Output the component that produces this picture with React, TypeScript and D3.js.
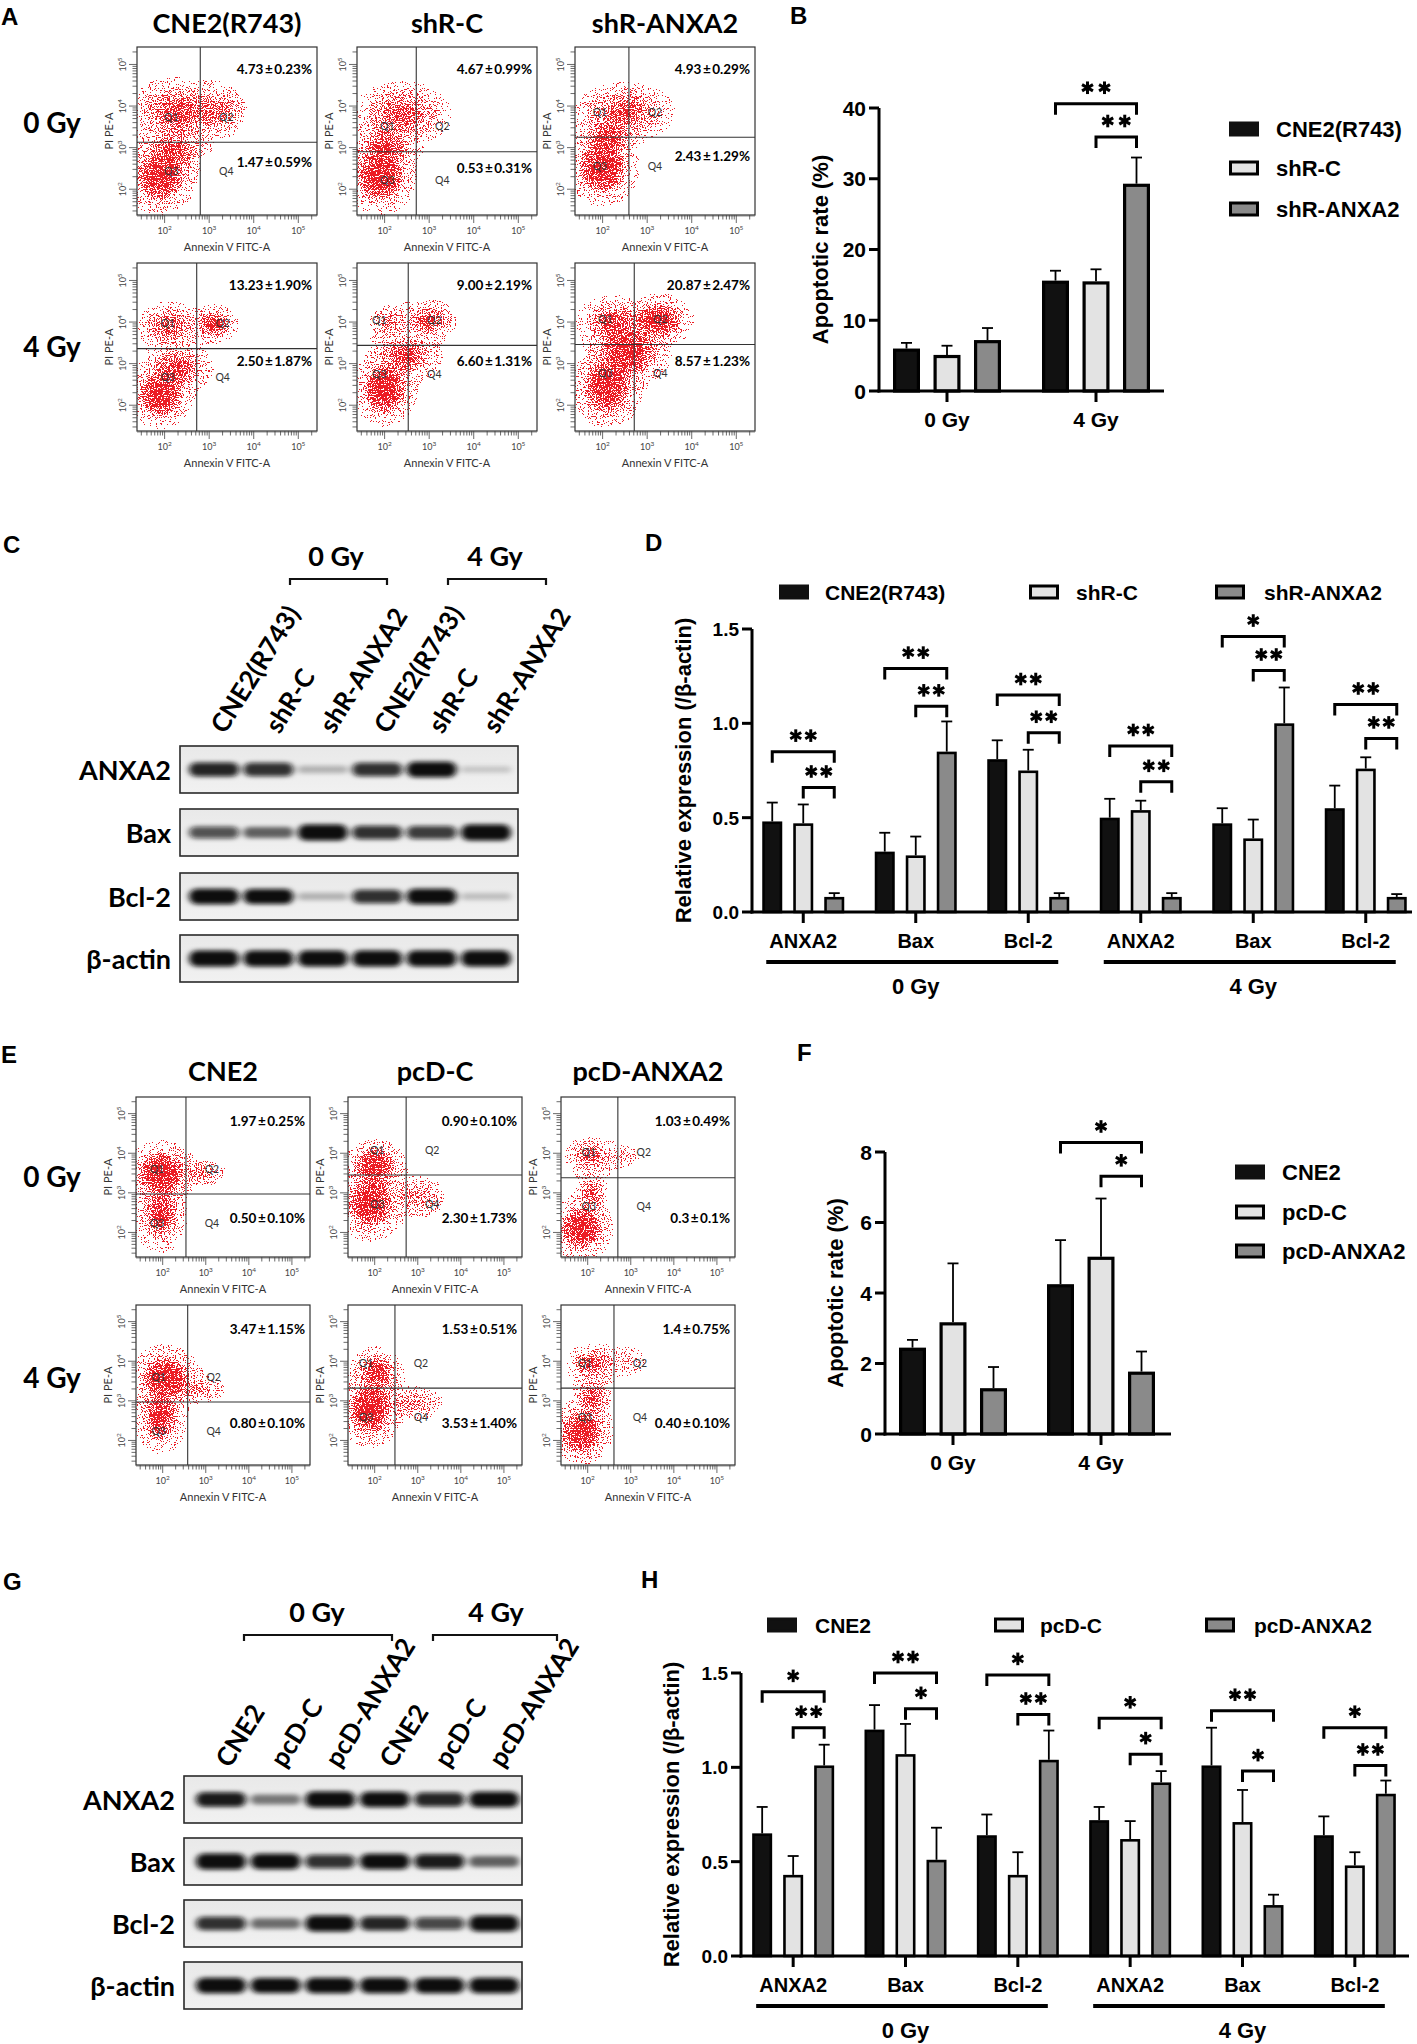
import React from "react";
import * as d3 from "d3";

const FIG_W = 1417;
const FIG_H = 2044;
const SANS = "'Liberation Sans', Arial, sans-serif";
const CAL = "Lato, 'Open Sans', sans-serif";

// ---------------- data: flow cytometry (A, E) ----------------
const groupsA = ["CNE2(R743)", "shR-C", "shR-ANXA2"];
const groupsE = ["CNE2", "pcD-C", "pcD-ANXA2"];
const doses = ["0 Gy", "4 Gy"];

// gate position per plot, [log10 Annexin V, log10 PI], rows 0 Gy then 4 Gy
const gatesA = [[2.8, 3.13], [2.71, 2.9], [2.59, 3.25], [2.72, 3.36], [2.53, 3.44], [2.71, 3.46]];
const gatesE = [[2.54, 2.97], [2.73, 3.45], [2.7, 3.38], [2.58, 2.97], [2.47, 3.32], [2.61, 3.32]];

const q2TextA = ["4.73±0.23%", "4.67±0.99%", "4.93±0.29%", "13.23±1.90%", "9.00±2.19%", "20.87±2.47%"];
const q4TextA = ["1.47±0.59%", "0.53±0.31%", "2.43±1.29%", "2.50±1.87%", "6.60±1.31%", "8.57±1.23%"];
const q2TextE = ["1.97±0.25%", "0.90±0.10%", "1.03±0.49%", "3.47±1.15%", "1.53±0.51%", "1.4±0.75%"];
const q4TextE = ["0.50±0.10%", "2.30±1.73%", "0.3±0.1%", "0.80±0.10%", "3.53±1.40%", "0.40±0.10%"];
// where the percentage labels sit (log10 PI)
const q2LevelA = 4.77;
const q2LevelE = 4.69;
const q4LevelA = [2.53, 2.39, 2.68, 2.95, 2.95, 2.95];
const q4LevelE = [2.24, 2.24, 2.24, 2.31, 2.31, 2.31];

// event clouds: [log10 Annexin centre, log10 PI centre, spread x, spread y (decades), density]
const cloudsA = [
  [[1.9, 2.3, 0.5, 0.55, 1], [2.2, 2.9, 0.55, 0.45, 0.5], [2.3, 3.85, 0.85, 0.6, 0.55], [3.2, 3.9, 0.55, 0.45, 0.35]],
  [[1.9, 2.3, 0.5, 0.55, 1], [2.0, 3.0, 0.5, 0.45, 0.6], [2.4, 3.8, 0.85, 0.6, 0.5]],
  [[2.0, 2.5, 0.5, 0.55, 1], [2.1, 3.2, 0.45, 0.4, 0.6], [2.5, 3.85, 0.85, 0.55, 0.5]],
  [[1.9, 2.25, 0.45, 0.5, 1], [2.3, 2.9, 0.55, 0.45, 0.6], [2.1, 3.9, 0.55, 0.45, 0.5], [3.1, 3.95, 0.35, 0.3, 0.75]],
  [[2.0, 2.4, 0.45, 0.55, 1], [2.5, 3.2, 0.55, 0.45, 0.6], [3.0, 4.05, 0.45, 0.35, 0.55], [2.1, 4.0, 0.4, 0.4, 0.35]],
  [[2.1, 2.45, 0.5, 0.6, 1], [2.6, 3.3, 0.6, 0.55, 0.85], [3.25, 4.05, 0.5, 0.4, 0.85], [2.2, 4.0, 0.55, 0.45, 0.6]],
];
const cloudsE = [
  [[1.95, 3.5, 0.5, 0.5, 1], [1.95, 2.45, 0.4, 0.65, 0.7], [2.9, 3.5, 0.55, 0.3, 0.3]],
  [[2.0, 3.7, 0.45, 0.4, 0.9], [1.9, 2.75, 0.5, 0.6, 0.95], [3.0, 2.9, 0.6, 0.5, 0.3]],
  [[1.85, 2.1, 0.45, 0.5, 1], [2.1, 3.0, 0.3, 0.5, 0.45], [2.05, 3.95, 0.45, 0.35, 0.5], [2.8, 3.9, 0.4, 0.3, 0.2]],
  [[2.05, 3.6, 0.5, 0.5, 1], [1.95, 2.6, 0.4, 0.6, 0.75], [2.8, 3.3, 0.6, 0.35, 0.3]],
  [[2.05, 3.75, 0.4, 0.4, 0.75], [1.9, 2.8, 0.45, 0.6, 1], [2.9, 2.95, 0.65, 0.4, 0.3]],
  [[1.85, 2.2, 0.45, 0.5, 1], [2.1, 3.1, 0.35, 0.5, 0.5], [2.1, 3.95, 0.45, 0.35, 0.55], [2.9, 4.0, 0.5, 0.4, 0.15]],
];

// ---------------- data: apoptosis bars (B, F) ----------------
const seriesB = ["CNE2(R743)", "shR-C", "shR-ANXA2"];
const seriesF = ["CNE2", "pcD-C", "pcD-ANXA2"];
const meanB = [[6.0, 5.1, 7.2], [15.6, 15.5, 29.3]];
const sdB = [[0.8, 1.3, 1.7], [1.4, 1.7, 3.7]];
const meanF = [[2.45, 3.17, 1.3], [4.25, 5.03, 1.77]];
const sdF = [[0.22, 1.67, 0.6], [1.25, 1.65, 0.57]];
const ticksB = [0, 10, 20, 30, 40];
const ticksF = [0, 2, 4, 6, 8];
// significance brackets: [category, from series, to series, level, stars]
const bracketsB = [[1, 0, 2, 40.6, 2], [1, 1, 2, 35.9, 2]];
const bracketsF = [[1, 0, 2, 8.27, 1], [1, 1, 2, 7.31, 1]];

// ---------------- data: western blots (C, G) ----------------
const proteins = ["ANXA2", "Bax", "Bcl-2", "β-actin"];
const lanesC = ["CNE2(R743)", "shR-C", "shR-ANXA2", "CNE2(R743)", "shR-C", "shR-ANXA2"];
const lanesG = ["CNE2", "pcD-C", "pcD-ANXA2", "CNE2", "pcD-C", "pcD-ANXA2"];
const bandsC = [
  [0.8, 0.75, 0.15, 0.75, 0.95, 0.07],
  [0.6, 0.5, 1.0, 0.75, 0.7, 1.0],
  [0.95, 0.9, 0.15, 0.75, 0.95, 0.1],
  [1.0, 1.0, 1.0, 1.0, 1.0, 1.0],
];
const bandsG = [
  [0.85, 0.4, 1.0, 0.95, 0.8, 0.95],
  [1.0, 0.95, 0.75, 0.95, 0.85, 0.5],
  [0.75, 0.45, 1.0, 0.8, 0.65, 1.0],
  [0.95, 0.9, 0.95, 0.95, 0.95, 0.95],
];

// ---------------- data: relative expression (D, H) ----------------
const exprCats = ["ANXA2", "Bax", "Bcl-2", "ANXA2", "Bax", "Bcl-2"];
const exprTicks = [0, 0.5, 1.0, 1.5];
const meanD = [[0.48, 0.47, 0.08], [0.32, 0.3, 0.85], [0.81, 0.75, 0.08], [0.5, 0.54, 0.08], [0.47, 0.39, 1.0], [0.55, 0.76, 0.08]];
const sdD = [[0.1, 0.1, 0.02], [0.1, 0.1, 0.16], [0.1, 0.11, 0.02], [0.1, 0.05, 0.02], [0.08, 0.1, 0.19], [0.12, 0.06, 0.015]];
const meanH = [[0.65, 0.43, 1.01], [1.2, 1.07, 0.51], [0.64, 0.43, 1.04], [0.72, 0.62, 0.92], [1.01, 0.71, 0.27], [0.64, 0.48, 0.86]];
const sdH = [[0.14, 0.1, 0.11], [0.13, 0.16, 0.17], [0.11, 0.12, 0.155], [0.07, 0.095, 0.06], [0.2, 0.17, 0.055], [0.1, 0.07, 0.07]];
const bracketsD = [
  [0, 0, 2, 0.85, 2], [0, 1, 2, 0.66, 2],
  [1, 0, 2, 1.29, 2], [1, 1, 2, 1.09, 2],
  [2, 0, 2, 1.15, 2], [2, 1, 2, 0.95, 2],
  [3, 0, 2, 0.88, 2], [3, 1, 2, 0.69, 2],
  [4, 0, 2, 1.46, 1], [4, 1, 2, 1.28, 2],
  [5, 0, 2, 1.1, 2], [5, 1, 2, 0.92, 2],
];
const bracketsH = [
  [0, 0, 2, 1.4, 1], [0, 1, 2, 1.21, 2],
  [1, 0, 2, 1.5, 2], [1, 1, 2, 1.31, 1],
  [2, 0, 2, 1.49, 1], [2, 1, 2, 1.28, 2],
  [3, 0, 2, 1.26, 1], [3, 1, 2, 1.07, 1],
  [4, 0, 2, 1.3, 2], [4, 1, 2, 0.98, 1],
  [5, 0, 2, 1.21, 1], [5, 1, 2, 1.01, 2],
];

const FILLS = ["#111111", "#e3e3e3", "#8a8a8a"];

// ---------------- flow plots ----------------
const LOG_MIN = 1.38;
const LOG_MAX = 5.42;

function Pct({ x, y, t }: any) {
  const [a, b] = t.split("±");
  return (
    <text x={x} y={y} textAnchor="end" fontFamily={CAL} fontWeight={700} fontSize={13.5}>
      {a}<tspan dx={1.5}>±</tspan><tspan dx={1.5}>{b}</tspan>
    </text>
  );
}

function FlowPlot({ id, left, top, w, h, gate, clouds, q2, q4, q2Lvl, q4Lvl }: any) {
  const dom = [10 ** LOG_MIN, 10 ** LOG_MAX];
  const x = d3.scaleLog().domain(dom).range([left, left + w]);
  const y = d3.scaleLog().domain(dom).range([top + h, top]);
  const dx = w / (LOG_MAX - LOG_MIN);
  const dy = h / (LOG_MAX - LOG_MIN);
  const ticks: { v: number; major: boolean }[] = [];
  for (let e = 1; e <= 5; e++) {
    for (let k = 1; k <= 9; k++) {
      const v = k * 10 ** e;
      if (v >= dom[0] && v <= dom[1]) ticks.push({ v, major: k === 1 });
    }
  }
  const majors = [2, 3, 4, 5];
  const gx = x(10 ** gate[0]);
  const gy = y(10 ** gate[1]);
  const qs = [
    ["Q1", gx - 29, gy - 24],
    ["Q2", gx + 26, gy - 24],
    ["Q3", gx - 29, gy + 30],
    ["Q4", gx + 26, gy + 30],
  ];
  // each cloud is drawn as a wide sparse halo, a body and a dense core
  const layers = [[1.9, 0.36], [1.1, 1], [0.55, 1]];
  return (
    <g>
      <clipPath id={`clip-${id}`}>
        <rect x={left} y={top} width={w} height={h} />
      </clipPath>
      <g clipPath={`url(#clip-${id})`}>
        <g filter="url(#speckle)">
          {layers.map(([k, o], li) =>
            clouds.map((c: number[], i: number) => (
              <ellipse key={`${li}-${i}`} cx={x(10 ** c[0])} cy={y(10 ** c[1])} rx={c[2] * dx * k} ry={c[3] * dy * k}
                fill="url(#cloudGrad)" opacity={o * c[4]} />
            ))
          )}
        </g>
      </g>
      <rect x={left} y={top} width={w} height={h} fill="none" stroke="#333" strokeWidth={1.2} />
      <line x1={gx} x2={gx} y1={top} y2={top + h} stroke="#333" strokeWidth={1.1} />
      <line x1={left} x2={left + w} y1={gy} y2={gy} stroke="#333" strokeWidth={1.1} />
      {qs.map(([t, qx, qy]: any) => (
        <text key={t} x={qx} y={qy} textAnchor="middle" dominantBaseline="middle" fontFamily={CAL} fontSize={10.5} fill="#333">{t}</text>
      ))}
      <Pct x={left + w - 5} y={y(10 ** q2Lvl)} t={q2} />
      <Pct x={left + w - 5} y={y(10 ** q4Lvl)} t={q4} />
      {ticks.map((t, i) => (
        <g key={i} stroke="#444" strokeWidth={0.8}>
          <line x1={x(t.v)} x2={x(t.v)} y1={top + h} y2={top + h + (t.major ? 8 : 4.5)} />
          <line y1={y(t.v)} y2={y(t.v)} x1={left} x2={left - (t.major ? 8 : 4.5)} />
        </g>
      ))}
      <line x1={left} x2={left + w} y1={top + h + 1} y2={top + h + 1} stroke="#444" strokeWidth={0.6} />
      {majors.map((e) => (
        <g key={e} fontFamily={CAL} fill="#444">
          <text x={x(10 ** e)} y={top + h + 19} textAnchor="middle" fontSize={9}>
            10<tspan dy={-4} fontSize={6.5}>{e}</tspan>
          </text>
          <text transform={`translate(${left - 11},${y(10 ** e)}) rotate(-90)`} textAnchor="middle" fontSize={9}>
            10<tspan dy={-4} fontSize={6.5}>{e}</tspan>
          </text>
        </g>
      ))}
      <text x={left + w / 2} y={top + h + 36} textAnchor="middle" fontFamily={CAL} fontSize={11} fill="#333">Annexin V FITC-A</text>
      <text transform={`translate(${left - 24},${top + h / 2}) rotate(-90)`} textAnchor="middle" fontFamily={CAL} fontSize={11} fill="#333">PI PE-A</text>
    </g>
  );
}

function FlowPanel({ tag, cols, rows, w, h, titleY, doseY, titles, gates, q2, q4, q2Lvl, q4Lvl, clouds }: any) {
  return (
    <g>
      {titles.map((t: string, i: number) => (
        <text key={t} x={cols[i] + w / 2} y={titleY} textAnchor="middle" fontFamily={CAL} fontWeight={700} fontSize={27}>{t}</text>
      ))}
      {doses.map((d, r) => (
        <text key={d} x={52} y={doseY[r]} textAnchor="middle" fontFamily={CAL} fontWeight={700} fontSize={28}>{d}</text>
      ))}
      {rows.map((top: number, r: number) =>
        cols.map((left: number, c: number) => {
          const k = r * 3 + c;
          return (
            <FlowPlot key={k} id={`${tag}${k}`} left={left} top={top} w={w} h={h} gate={gates[k]} clouds={clouds[k]}
              q2={q2[k]} q4={q4[k]} q2Lvl={q2Lvl} q4Lvl={q4Lvl[k]} />
          );
        })
      )}
    </g>
  );
}

// ---------------- bar charts ----------------
function Star({ x, y, r }: any) {
  return (
    <g stroke="#000" strokeWidth={3}>
      {[90, 30, 150].map((a) => {
        const rad = (a * Math.PI) / 180;
        const ddx = r * Math.cos(rad);
        const ddy = r * Math.sin(rad);
        return <line key={a} x1={x - ddx} y1={y - ddy} x2={x + ddx} y2={y + ddy} />;
      })}
    </g>
  );
}

function BarChart({ axisX, axisEnd, baseY, topY, yMax, ticks, fmt, bandRange, cats, means, sds, brackets,
  barW, pitch, sw, tickFs, catFs, starGap, yLabel, yLabelX }: any) {
  const x = d3.scaleBand().domain(d3.range(cats.length).map(String)).range(bandRange);
  const y = d3.scaleLinear().domain([0, yMax]).range([baseY, topY]);
  const cx = (c: number, s: number) => (x(String(c)) as number) + x.bandwidth() / 2 + (s - 1) * pitch;
  return (
    <g>
      {means.map((row: number[], c: number) =>
        row.map((m, s) => {
          const bx = cx(c, s);
          const top = y(m + sds[c][s]);
          return (
            <g key={`${c}-${s}`}>
              <line x1={bx} x2={bx} y1={y(m)} y2={top} stroke="#000" strokeWidth={1.8} />
              <line x1={bx - 5.5} x2={bx + 5.5} y1={top} y2={top} stroke="#000" strokeWidth={1.8} />
              <rect x={bx - barW / 2 + sw / 2} y={y(m) + sw / 2} width={barW - sw} height={baseY - y(m) - sw / 2}
                fill={FILLS[s]} stroke="#000" strokeWidth={sw} />
            </g>
          );
        })
      )}
      <line x1={axisX} x2={axisX} y1={baseY + 1.5} y2={topY} stroke="#000" strokeWidth={3} />
      <line x1={axisX - 1.5} x2={axisEnd} y1={baseY} y2={baseY} stroke="#000" strokeWidth={3} />
      {ticks.map((t: number) => (
        <g key={t}>
          <line x1={axisX - 10} x2={axisX} y1={y(t)} y2={y(t)} stroke="#000" strokeWidth={3} />
          <text x={axisX - 13} y={y(t) + tickFs * 0.36} textAnchor="end" fontFamily={SANS} fontWeight={700} fontSize={tickFs}>{fmt(t)}</text>
        </g>
      ))}
      {cats.map((c: string, i: number) => {
        const tx = (x(String(i)) as number) + x.bandwidth() / 2;
        return (
          <g key={i}>
            <line x1={tx} x2={tx} y1={baseY} y2={baseY + 11} stroke="#000" strokeWidth={3} />
            <text x={tx} y={baseY + 36} textAnchor="middle" fontFamily={SANS} fontWeight={700} fontSize={catFs}>{c}</text>
          </g>
        );
      })}
      {brackets.map((b: number[], i: number) => {
        const x1 = cx(b[0], b[1]);
        const x2 = cx(b[0], b[2]);
        const by = y(b[3]);
        const mid = (x1 + x2) / 2;
        return (
          <g key={i}>
            <path d={`M${x1},${by + 11}V${by}H${x2}V${by + 11}`} fill="none" stroke="#000" strokeWidth={3} />
            {d3.range(b[4]).map((k) => (
              <Star key={k} x={mid + (k - (b[4] - 1) / 2) * starGap} y={by - 16} r={6.3} />
            ))}
          </g>
        );
      })}
      <text transform={`translate(${yLabelX},${(baseY + topY) / 2}) rotate(-90)`} textAnchor="middle"
        fontFamily={SANS} fontWeight={700} fontSize={22}>{yLabel}</text>
    </g>
  );
}

function Legend({ names, sqX, textX, cy, fs }: any) {
  return (
    <g>
      {names.map((n: string, i: number) => (
        <g key={n}>
          <rect x={sqX[i] + 1.5} y={cy[i] - 6} width={27} height={12} fill={FILLS[i]} stroke={i === 0 ? FILLS[0] : "#000"} strokeWidth={3} />
          <text x={textX[i]} y={cy[i] + fs * 0.36} fontFamily={SANS} fontWeight={700} fontSize={fs}>{n}</text>
        </g>
      ))}
    </g>
  );
}

function DoseUnderline({ bandRange, baseY }: any) {
  const x = d3.scaleBand().domain(d3.range(6).map(String)).range(bandRange);
  const c = (i: number) => (x(String(i)) as number) + x.bandwidth() / 2;
  return (
    <g>
      {doses.map((d, g) => (
        <g key={d}>
          <line x1={c(g * 3) - 37} x2={c(g * 3 + 2) + 30} y1={baseY + 50} y2={baseY + 50} stroke="#000" strokeWidth={4} />
          <text x={c(g * 3 + 1)} y={baseY + 82} textAnchor="middle" fontFamily={SANS} fontWeight={700} fontSize={22}>{d}</text>
        </g>
      ))}
    </g>
  );
}

// ---------------- blots ----------------
function Blot({ id, left, right, tops, bh, laneRange, lanes, bands, labelY, labelDx, headers, labelRight }: any) {
  const lx = d3.scalePoint().domain(d3.range(6).map(String)).range(laneRange);
  const px = (i: number) => lx(String(i)) as number;
  return (
    <g>
      {lanes.map((l: string, i: number) => (
        <text key={i} transform={`translate(${px(i) + labelDx},${labelY}) rotate(-58)`} fontFamily={CAL}
          fontWeight={700} fontSize={26}>{l}</text>
      ))}
      {headers.map((hd: any) => (
        <g key={hd.t}>
          <text x={hd.cx} y={hd.ty} textAnchor="middle" fontFamily={CAL} fontWeight={700} fontSize={27}>{hd.t}</text>
          <path d={`M${hd.x1},${hd.ty + 19}V${hd.ty + 13}H${hd.x2}V${hd.ty + 19}`} fill="none" stroke="#111" strokeWidth={2.2} />
        </g>
      ))}
      {proteins.map((p, r) => {
        const top = tops[r];
        const cy = top + bh / 2;
        return (
          <g key={p}>
            <text x={labelRight} y={cy + 10} textAnchor="end" fontFamily={CAL} fontWeight={700} fontSize={27}>{p}</text>
            <clipPath id={`bclip-${id}${r}`}>
              <rect x={left} y={top} width={right - left} height={bh} />
            </clipPath>
            <rect x={left} y={top} width={right - left} height={bh} fill="url(#blotBg)" />
            <g clipPath={`url(#bclip-${id}${r})`}>
              <g filter="url(#bandBlur)">
                {bands[r].map((v: number, i: number) => {
                  const hh = 6 + 10 * v;
                  return (
                    <rect key={i} x={px(i) - 25} y={cy - hh / 2} width={50} height={hh} rx={hh / 2}
                      fill="#0a0a0a" opacity={Math.min(1, 0.1 + v)} />
                  );
                })}
              </g>
            </g>
            <rect x={left} y={top} width={right - left} height={bh} fill="none" stroke="#2a2a2a" strokeWidth={1.6} />
          </g>
        );
      })}
    </g>
  );
}

function PanelLetter({ x, y, t }: any) {
  return <text x={x} y={y} fontFamily={SANS} fontWeight={700} fontSize={24}>{t}</text>;
}

export default function App() {
  const f1 = d3.format("d");
  const f2 = d3.format(".1f");
  return (
    <svg width={FIG_W} height={FIG_H} style={{ position: "absolute", left: 0, top: 0 }}>
      <defs>
        <radialGradient id="cloudGrad">
          <stop offset="0" stopColor="#000" stopOpacity={1} />
          <stop offset="0.5" stopColor="#000" stopOpacity={0.8} />
          <stop offset="0.82" stopColor="#000" stopOpacity={0.4} />
          <stop offset="1" stopColor="#000" stopOpacity={0} />
        </radialGradient>
        <filter id="speckle" x="0" y="0" width="1" height="1" colorInterpolationFilters="sRGB">
          <feTurbulence type="fractalNoise" baseFrequency="0.85" numOctaves={2} seed={11} result="noise" />
          <feColorMatrix in="noise" type="matrix" values="0 0 0 0 0  0 0 0 0 0  0 0 0 0 0  3.2 0 0 0 -1.1" result="na" />
          <feComposite in="SourceAlpha" in2="na" operator="arithmetic" k1={0} k2={1} k3={1} k4={-0.6} result="sum" />
          <feComponentTransfer in="sum" result="dots">
            <feFuncA type="discrete" tableValues="0 1" />
          </feComponentTransfer>
          <feFlood floodColor="#ec1c24" result="red" />
          <feComposite in="red" in2="dots" operator="in" />
        </filter>
        <filter id="bandBlur" x="-20%" y="-100%" width="140%" height="300%">
          <feGaussianBlur stdDeviation="3 2" />
        </filter>
        <linearGradient id="blotBg" x1="0" x2="0" y1="0" y2="1">
          <stop offset="0" stopColor="#e9e9e9" />
          <stop offset="1" stopColor="#f1f1f1" />
        </linearGradient>
      </defs>
      <rect width={FIG_W} height={FIG_H} fill="#fff" />

      {/* A */}
      <PanelLetter x={1} y={25} t="A" />
      <FlowPanel tag="a" cols={[137, 357, 575]} rows={[47, 263]} w={180} h={168} titleY={33} doseY={[133, 357]}
        titles={groupsA} gates={gatesA} q2={q2TextA} q4={q4TextA} q2Lvl={q2LevelA} q4Lvl={q4LevelA} clouds={cloudsA} />

      {/* B */}
      <PanelLetter x={790} y={24} t="B" />
      <BarChart axisX={879} axisEnd={1164} baseY={391} topY={108} yMax={40} ticks={ticksB} fmt={f1}
        bandRange={[872.5, 1170.5]} cats={doses} means={meanB} sds={sdB} brackets={bracketsB}
        barW={27} pitch={40.5} sw={3.2} tickFs={21} catFs={21} starGap={17} yLabel="Apoptotic rate (%)" yLabelX={828} />
      <Legend names={seriesB} sqX={[1229, 1229, 1229]} textX={[1276, 1276, 1276]} cy={[129, 168, 209]} fs={22} />

      {/* C */}
      <PanelLetter x={3} y={553} t="C" />
      <Blot id="c" left={180} right={518} tops={[746, 809, 873, 935]} bh={47} laneRange={[214, 486]} lanes={lanesC}
        bands={bandsC} labelY={735} labelDx={11} labelRight={171}
        headers={[{ t: "0 Gy", cx: 336, ty: 566, x1: 290, x2: 387 }, { t: "4 Gy", cx: 495, ty: 566, x1: 448, x2: 546 }]} />

      {/* D */}
      <PanelLetter x={645} y={551} t="D" />
      <Legend names={seriesB} sqX={[779, 1029, 1215]} textX={[825, 1076, 1264]} cy={[592, 592, 592]} fs={21} />
      <BarChart axisX={752} axisEnd={1412} baseY={912} topY={629} yMax={1.5} ticks={exprTicks} fmt={f2}
        bandRange={[747, 1422]} cats={exprCats} means={meanD} sds={sdD} brackets={bracketsD}
        barW={20} pitch={31} sw={2.6} tickFs={19} catFs={20} starGap={15} yLabel="Relative expression (/β-actin)" yLabelX={691} />
      <DoseUnderline bandRange={[747, 1422]} baseY={912} />

      {/* E */}
      <PanelLetter x={1} y={1063} t="E" />
      <FlowPanel tag="e" cols={[136, 348, 561]} rows={[1097, 1305]} w={174} h={160} titleY={1081} doseY={[1187, 1388]}
        titles={groupsE} gates={gatesE} q2={q2TextE} q4={q4TextE} q2Lvl={q2LevelE} q4Lvl={q4LevelE} clouds={cloudsE} />

      {/* F */}
      <PanelLetter x={797} y={1061} t="F" />
      <BarChart axisX={885} axisEnd={1171} baseY={1434} topY={1152} yMax={8} ticks={ticksF} fmt={f1}
        bandRange={[879, 1175]} cats={doses} means={meanF} sds={sdF} brackets={bracketsF}
        barW={27} pitch={40.5} sw={3.2} tickFs={21} catFs={21} starGap={17} yLabel="Apoptotic rate (%)" yLabelX={843} />
      <Legend names={seriesF} sqX={[1235, 1235, 1235]} textX={[1282, 1282, 1282]} cy={[1172, 1212, 1251]} fs={22} />

      {/* G */}
      <PanelLetter x={3} y={1590} t="G" />
      <Blot id="g" left={184} right={522} tops={[1776, 1838, 1900, 1962]} bh={47} laneRange={[221, 494]} lanes={lanesG}
        bands={bandsG} labelY={1769} labelDx={9} labelRight={175}
        headers={[{ t: "0 Gy", cx: 317, ty: 1622, x1: 244, x2: 392 }, { t: "4 Gy", cx: 496, ty: 1622, x1: 433, x2: 557 }]} />

      {/* H */}
      <PanelLetter x={641} y={1588} t="H" />
      <Legend names={seriesF} sqX={[767, 994, 1205]} textX={[815, 1040, 1254]} cy={[1625, 1625, 1625]} fs={21} />
      <BarChart axisX={741} axisEnd={1409} baseY={1956} topY={1673} yMax={1.5} ticks={exprTicks} fmt={f2}
        bandRange={[737, 1411]} cats={exprCats} means={meanH} sds={sdH} brackets={bracketsH}
        barW={20} pitch={31} sw={2.6} tickFs={19} catFs={20} starGap={15} yLabel="Relative expression (/β-actin)" yLabelX={679} />
      <DoseUnderline bandRange={[737, 1411]} baseY={1956} />
    </svg>
  );
}
